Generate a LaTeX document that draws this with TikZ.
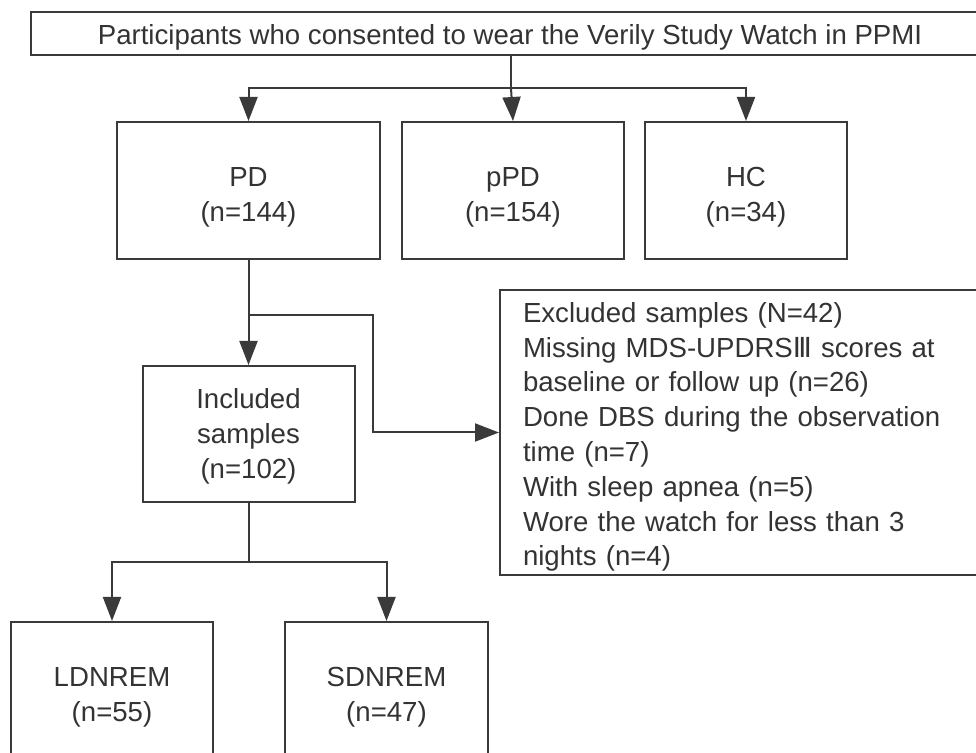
\documentclass[tikz,border=0pt]{standalone}
\usepackage{fontspec}
\setmainfont{Liberation Sans}
\newfontfamily\numfont{DejaVu Sans}
\usepackage{xcolor}
\usetikzlibrary{arrows.meta, positioning}
\definecolor{linegray}{HTML}{3A3A3A}
\definecolor{textgray}{HTML}{333333}
\tikzset{
  groupbox/.style={
    rectangle, draw=linegray, line width=1pt, fill=white, text=textgray,
    align=center, minimum height=68.5pt, inner sep=0pt,
    font=\fontsize{13.8}{17.5}\selectfont
  },
  twoline/.style={
    groupbox, text height=31.5pt, text depth=0pt
  },
  notebox/.style={
    rectangle, draw=linegray, line width=1pt, fill=white, text=textgray,
    align=left, anchor=west, inner sep=0pt, inner xsep=11.5pt,
    text width=236pt, text height=14.5pt, minimum height=142.5pt,
    font=\fontsize{13.8}{17.4}\selectfont
  },
  flowline/.style={
    line width=1pt, draw=linegray
  },
  flowarrow/.style={
    flowline, -{Triangle[length=12pt, width=9pt]}
  }
}

\begin{document}
\begin{tikzpicture}[x=0.5pt, y=-0.5pt]
  \fill[white] (0,0) rectangle (976,753);
  \useasboundingbox (0,0) rectangle (976,753);
  \clip (0,0) rectangle (976,753);

  \node[groupbox, minimum width=479pt, minimum height=21.5pt, text height=14pt, text depth=2.9pt] (consent) at (510,33.5) {Participants who consented to wear the Verily Study Watch in PPMI};
  \node[twoline, minimum width=131.5pt] (pd) at (248.5,190.5) {PD\\(n=144)};
  \node[twoline, minimum width=111pt, right=10pt of pd] (ppd) {pPD\\(n=154)};
  \node[twoline, minimum width=101pt, right=9.5pt of ppd] (hc) {HC\\(n=34)};
  \node[groupbox, minimum width=106pt, minimum height=68pt, text depth=0pt, below=52.5pt of pd] (incl) {Included\\samples\\(n=102)};
  \node[notebox] (excl) at (499,432.5) {Excluded samples (N=42)\\Missing MDS-UPDRS{\numfont Ⅲ} scores at\\baseline or follow up (n=26)\\Done DBS during the observation\\time (n=7)\\With sleep apnea (n=5)\\Wore the watch for less than 3\\nights (n=4)};
  \node[twoline, minimum width=101pt] (ldnrem) at (112,690.5) {LDNREM\\(n=55)};
  \node[twoline, minimum width=101.5pt] (sdnrem) at (386.5,690.5) {SDNREM\\(n=47)};

  \coordinate (split) at (511,88);
  \coordinate (fork) at (248.5,315);
  \coordinate (bend) at (373,315);
  \coordinate (split2) at (248.5,562);

  \draw[flowline] (consent.south -| split) -- (split);
  \draw[flowarrow] (split) -| (pd.north);
  \draw[flowarrow] (split) -- (ppd.north);
  \draw[flowarrow] (split) -| (hc.north);
  \draw[flowarrow] (pd.south) -- (incl.north);
  \draw[flowarrow] (fork) -- (bend) |- (excl.west);
  \draw[flowline] (incl.south) -- (split2);
  \draw[flowarrow] (split2) -| (ldnrem.north);
  \draw[flowarrow] (split2) -| (sdnrem.north);
\end{tikzpicture}
\end{document}
